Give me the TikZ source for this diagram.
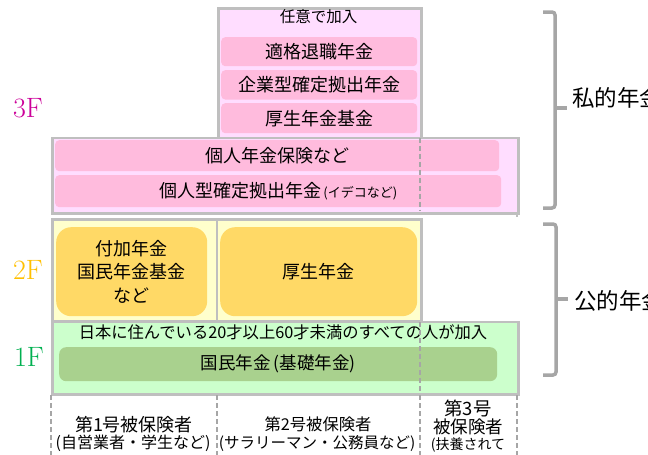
\documentclass[tikz,border=0pt]{standalone}
\usepackage{fontspec}
\newfontfamily\jp{Noto Sans CJK JP}
\definecolor{bordergray}{HTML}{BFBFBF}
\definecolor{bracegray}{HTML}{A6A6A6}
\definecolor{pinkL}{HTML}{FFDDFF}
\definecolor{pinkD}{HTML}{FFBBDD}
\definecolor{yelL}{HTML}{FFFFCC}
\definecolor{orangeD}{HTML}{FFD966}
\definecolor{greenL}{HTML}{CCFFCC}
\definecolor{greenD}{HTML}{A9D18E}
\definecolor{floorc}{HTML}{CC0099}
\definecolor{floorb}{HTML}{FFC000}
\definecolor{floora}{HTML}{00B050}
\tikzset{
  outerbox/.style={draw=bordergray, line width=2.5pt, inner sep=0pt, anchor=north west},
  pinkin/.style={fill=pinkD, rounded corners=4pt, inner sep=0pt, anchor=north west,
    font={\jp\fontsize{18}{22}\selectfont}},
  orangein/.style={fill=orangeD, rounded corners=15pt, inner sep=0pt, anchor=north west,
    align=center, font={\jp\fontsize{18}{23.5}\selectfont}},
  greenin/.style={fill=greenD, rounded corners=7pt, inner sep=0pt, anchor=north west,
    font={\jp\fontsize{17.5}{20}\selectfont}},
  jptext/.style={inner sep=0pt, font={\jp\fontsize{#1}{#1}\selectfont}},
  floorlbl/.style={inner sep=0pt, font={\fontsize{28}{30}\selectfont}},
  sepline/.style={draw=bracegray, line width=2pt, dash pattern=on 5pt off 3pt},
  bracket/.style={draw=bracegray, line width=3.5pt, rounded corners=3pt},
  bracelbl/.style={inner sep=0pt, anchor=west, font={\jp\fontsize{22.5}{24}\selectfont}}
}
\begin{document}
\begin{tikzpicture}[x=1pt,y=-1pt]
\useasboundingbox[fill=white] (0,0) rectangle (648,455);

% 3F upper box
\node[outerbox, fill=pinkL, minimum width=203pt, minimum height=129.5pt] (upper) at (217,7) {};
\node[jptext=15.5] (opt) at (318.5,17) {任意で加入};
\node[pinkin, minimum width=196pt, minimum height=29pt] (tekikaku) at (221,37) {適格退職年金};
\node[pinkin, minimum width=196pt, minimum height=29.3pt] (kigyo) at (221,70) {企業型確定拠出年金};
\node[pinkin, minimum width=196pt, minimum height=30pt] (kikin) at (221,103) {厚生年金基金};

% 3F lower box
\node[outerbox, fill=pinkL, minimum width=466pt, minimum height=75.5pt] (lower) at (51,136.5) {};
\node[pinkin, minimum width=444pt, minimum height=31pt] (kojin) at (55,140) {個人年金保険など};
\node[pinkin, minimum width=446pt, minimum height=32pt] (ideco) at (55,175) {個人型確定拠出年金{\fontsize{13}{14}\selectfont\,(イデコなど)}};
\coordinate (d3a) at (420,137.5);
\coordinate (d3b) at (420,211);
\draw[sepline] (d3a) -- (d3b);

% 2F
\node[outerbox, fill=yelL, minimum width=369pt, minimum height=102pt] (second) at (51,218) {};
\coordinate (div2a) at (217,218);
\coordinate (div2b) at (217,320);
\draw[draw=bordergray, line width=2.5pt] (div2a) -- (div2b);
\node[orangein, minimum width=151pt, minimum height=89pt] (fuka) at (56,227) {付加年金\\国民年金基金\\など};
\node[orangein, minimum width=197pt, minimum height=89pt] (kosei) at (220,227) {厚生年金};

% 1F
\node[outerbox, fill=greenL, minimum width=466pt, minimum height=72.5pt] (first) at (51,320.5) {};
\node[jptext=16.3] (all) at (283,332) {日本に住んでいる20才以上60才未満のすべての人が加入};
\node[greenin, minimum width=438pt, minimum height=34pt] (kokumin) at (59,347) {国民年金\,(基礎年金)};
\coordinate (d1a) at (420,322);
\coordinate (d1b) at (420,392);
\draw[sepline] (d1a) -- (d1b);

% floor labels
\node[floorlbl, text=floorc] (f3) at (28,108) {3F};
\node[floorlbl, text=floorb] (f2) at (28,270) {2F};
\node[floorlbl, text=floora] (f1) at (29,357) {1F};

% bottom columns
\foreach \xx/\nm in {51/ca,217/cb,420/cc,517/cd}{
  \coordinate (\nm top) at (\xx,395);
  \coordinate (\nm bot) at (\xx,458);
  \draw[sepline] (\nm top) -- (\nm bot);
}
\coordinate (cdmida) at (517,213);
\coordinate (cdmidb) at (517,217);
\draw[draw=bordergray, line width=2pt] (cdmida) -- (cdmidb);

\node[jptext=18] (g1a) at (134,425) {第1号被保険者};
\node[jptext=16] (g1b) at (133,443) {(自営業者・学生など)};
\node[jptext=16.3] (g2a) at (318,424) {第2号被保険者};
\node[jptext=15.5] (g2b) at (317,443) {(サラリーマン・公務員など)};
\node[jptext=18.4] (g3a) at (468,408) {第3号};
\node[jptext=17.5] (g3b) at (468,427) {被保険者};
\node[jptext=14] (g3c) at (468,445) {(扶養されて};

% braces
\coordinate (b1a) at (543,12);
\coordinate (b1b) at (555,12);
\coordinate (b1c) at (555,208);
\coordinate (b1d) at (543,208);
\coordinate (b1m) at (555,108);
\coordinate (b1t) at (567,108);
\draw[bracket] (b1a) -- (b1b) -- (b1c) -- (b1d);
\draw[bracket] (b1m) -- (b1t);
\node[bracelbl] (shiteki) at (572,98) {私的年金};

\coordinate (b2a) at (543,224);
\coordinate (b2b) at (556,224);
\coordinate (b2c) at (556,375);
\coordinate (b2d) at (543,375);
\coordinate (b2m) at (556,299);
\coordinate (b2t) at (568,299);
\draw[bracket] (b2a) -- (b2b) -- (b2c) -- (b2d);
\draw[bracket] (b2m) -- (b2t);
\node[bracelbl] (koteki) at (574,301) {公的年金};
\end{tikzpicture}
\end{document}
